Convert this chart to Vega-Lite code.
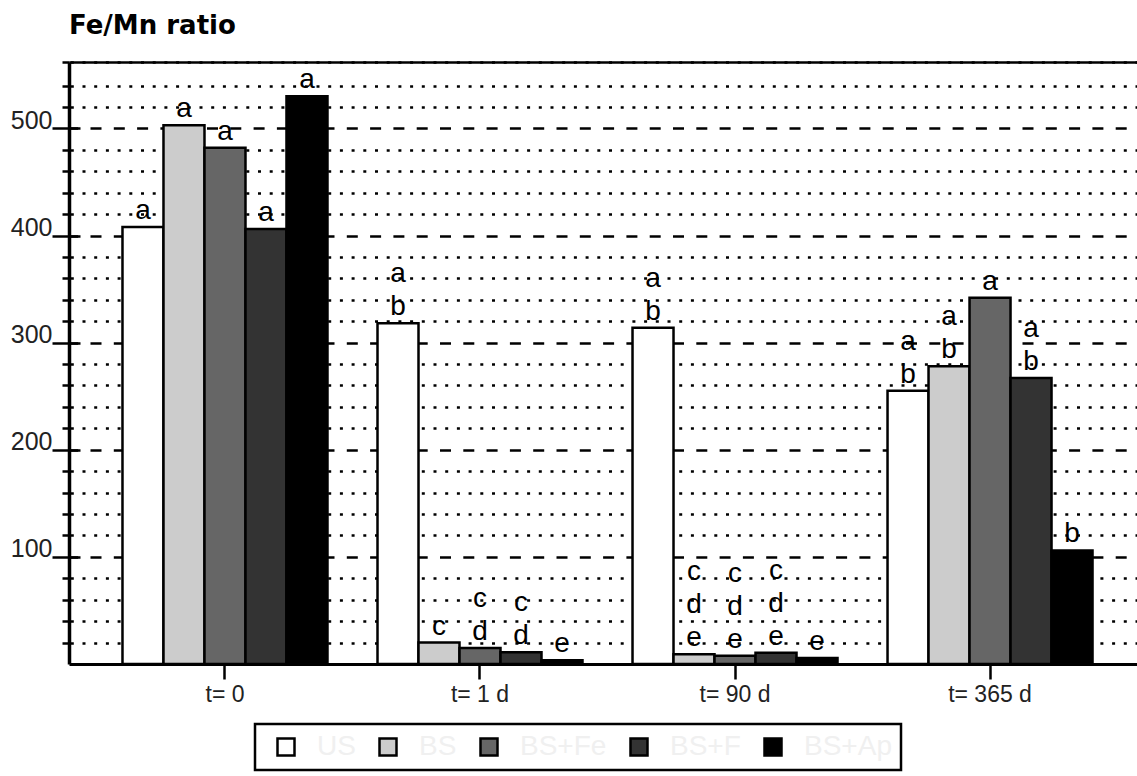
{
  "$schema": "https://vega.github.io/schema/vega-lite/v6.json",
  "width": 1068,
  "height": 602,
  "autosize": {"type": "none"},
  "padding": {"left": 69, "top": 62, "right": 0, "bottom": 112},
  "background": "white",
  "config": {"view": {"stroke": null}, "font": "Liberation Sans"},
  "title": {"text": "Fe/Mn ratio", "anchor": "start", "frame": "group", "font": "DejaVu Sans", "fontSize": 26, "fontWeight": "bold", "color": "black", "offset": 3},
  "data": {"values": [
    {"time": "t= 0", "treatment": "US", "ratio": 408, "sig": "a"},
    {"time": "t= 0", "treatment": "BS", "ratio": 503, "sig": "a"},
    {"time": "t= 0", "treatment": "BS+Fe", "ratio": 482, "sig": "a"},
    {"time": "t= 0", "treatment": "BS+F", "ratio": 406, "sig": "a"},
    {"time": "t= 0", "treatment": "BS+Ap", "ratio": 530, "sig": "a"},
    {"time": "t= 1 d", "treatment": "US", "ratio": 318, "sig": "a\nb"},
    {"time": "t= 1 d", "treatment": "BS", "ratio": 20, "sig": "c"},
    {"time": "t= 1 d", "treatment": "BS+Fe", "ratio": 15, "sig": "c\nd"},
    {"time": "t= 1 d", "treatment": "BS+F", "ratio": 11, "sig": "c\nd"},
    {"time": "t= 1 d", "treatment": "BS+Ap", "ratio": 3.5, "sig": "e"},
    {"time": "t= 90 d", "treatment": "US", "ratio": 314, "sig": "a\nb"},
    {"time": "t= 90 d", "treatment": "BS", "ratio": 9, "sig": "c\nd\ne"},
    {"time": "t= 90 d", "treatment": "BS+Fe", "ratio": 7.8, "sig": "c\nd\ne"},
    {"time": "t= 90 d", "treatment": "BS+F", "ratio": 10.5, "sig": "c\nd\ne"},
    {"time": "t= 90 d", "treatment": "BS+Ap", "ratio": 5.5, "sig": "e"},
    {"time": "t= 365 d", "treatment": "US", "ratio": 255, "sig": "a\nb"},
    {"time": "t= 365 d", "treatment": "BS", "ratio": 278, "sig": "a\nb"},
    {"time": "t= 365 d", "treatment": "BS+Fe", "ratio": 342, "sig": "a"},
    {"time": "t= 365 d", "treatment": "BS+F", "ratio": 267, "sig": "a\nb"},
    {"time": "t= 365 d", "treatment": "BS+Ap", "ratio": 106, "sig": "b"}
  ]},
  "encoding": {
    "x": {
      "field": "time", "type": "nominal",
      "sort": ["t= 0", "t= 1 d", "t= 90 d", "t= 365 d"],
      "scale": {"paddingInner": 0, "paddingOuter": 0.094, "align": 0.594}
    },
    "xOffset": {
      "field": "treatment", "type": "nominal",
      "sort": ["US", "BS", "BS+Fe", "BS+F", "BS+Ap"],
      "scale": {"paddingInner": 0, "paddingOuter": 0.61}
    },
    "y": {
      "field": "ratio", "type": "quantitative",
      "scale": {"domain": [0, 562], "nice": false, "zero": true}
    }
  },
  "layer": [
    {
      "mark": {"type": "bar", "stroke": "black", "strokeWidth": 2.5},
      "encoding": {
        "x": {
          "field": "time", "type": "nominal",
          "sort": ["t= 0", "t= 1 d", "t= 90 d", "t= 365 d"],
          "axis": {"title": null, "labelAngle": 0, "domainWidth": 3, "domainColor": "black", "tickColor": "black", "tickWidth": 2.5, "tickSize": 15, "labelFontSize": 23, "labelColor": "#222222", "labelPadding": 4, "grid": false}
        },
        "y": {
          "field": "ratio", "type": "quantitative",
          "axis": {
            "title": null,
            "orient": "left",
            "values": [20, 40, 60, 80, 100, 120, 140, 160, 180, 200, 220, 240, 260, 280, 300, 320, 340, 360, 380, 400, 420, 440, 460, 480, 500, 520, 540, 562],
            "domainWidth": 3.5, "domainColor": "black",
            "tickColor": "black", "tickWidth": 2.5,
            "tickSize": {"condition": {"test": "datum.value % 100 === 0", "value": 17}, "value": 7},
            "labelExpr": "datum.value % 100 === 0 ? datum.label : ''",
            "labelFontSize": 25, "labelColor": "#222222", "labelPadding": 0,
            "labelBaseline": "alphabetic", "labelAlign": "right",
            "labelOverlap": false, "labelFlush": false, "labelBound": false,
            "grid": true, "gridColor": "black", "gridWidth": 2.5,
            "gridDash": {"condition": {"test": "datum.value % 100 === 0", "value": [11, 12.3]}, "value": [3, 8.7]},
            "gridDashOffset": {"condition": {"test": "datum.value % 100 === 0", "value": 2.3}, "value": 10.4}
          }
        },
        "fill": {
          "field": "treatment", "type": "nominal",
          "sort": ["US", "BS", "BS+Fe", "BS+F", "BS+Ap"],
          "scale": {"domain": ["US", "BS", "BS+Fe", "BS+F", "BS+Ap"], "range": ["#ffffff", "#cccccc", "#666666", "#333333", "#000000"]},
          "legend": {
            "orient": "none", "legendX": 186, "legendY": 662,
            "direction": "horizontal", "columns": 5, "title": null,
            "symbolType": "square", "symbolSize": 289,
            "symbolStrokeColor": "black", "symbolStrokeWidth": 2.5,
            "symbolOffset": 8,
            "labelFontSize": 28, "labelColor": "#f0f0f0", "labelOffset": 17,
            "columnPadding": 10, "padding": 9,
            "strokeColor": "black",
            "encode": {"legend": {"update": {"strokeWidth": {"value": 2.5}}}}
          }
        }
      }
    },
    {
      "mark": {"type": "text", "baseline": "bottom", "lineBreak": "\n", "fontSize": 28, "lineHeight": 33, "color": "black",
        "dy": {"expr": "-2 - 33 * (length(split(datum.sig, '\\n')) - 1)"}},
      "encoding": {
        "text": {"field": "sig"},
        "x": {
          "field": "time", "type": "nominal",
          "sort": ["t= 0", "t= 1 d", "t= 90 d", "t= 365 d"],
          "axis": {"orient": "top", "title": null, "labels": false, "ticks": false, "grid": false, "domainWidth": 2.5, "domainColor": "black"}
        },
        "y": {
          "field": "ratio", "type": "quantitative",
          "axis": {"orient": "left", "title": null, "labels": false, "domain": false, "grid": false,
            "values": [100, 200, 300, 400, 500], "tickSize": -11, "tickWidth": 2.5, "tickColor": "black"}
        }
      }
    }
  ],
  "resolve": {"axis": {"x": "independent", "y": "independent"}}
}
